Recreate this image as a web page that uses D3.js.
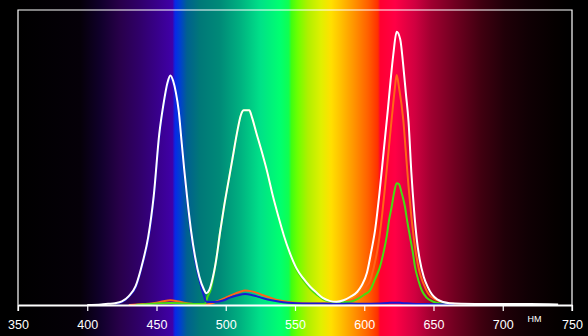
<!DOCTYPE html>
<html>
<head>
<meta charset="utf-8">
<script src="https://cdn.jsdelivr.net/npm/d3@7"></script>
<style>
  html, body { margin: 0; padding: 0; background: #000; }
  svg { display: block; }
</style>
</head>
<body>
<div id="vis-container"></div>
<script>
////////////////////////////////////
/////////////// Data ///////////////
////////////////////////////////////

const tickValues = [350, 400, 450, 500, 550, 600, 650, 700, 750]
const unitLabel = "НМ"

// white field spectrum
const whiteNm = [400, 410, 415, 420, 425, 430, 435, 440, 444, 448, 452, 455, 458, 460, 462, 464, 466, 468, 470, 472, 475, 478, 481, 484, 486, 488, 490, 493, 496, 499, 502, 505, 508, 511, 513, 517, 519, 522, 526, 530, 534, 538, 542, 546, 551, 556, 561, 566, 570, 575, 580, 585, 590, 595, 598, 602, 605, 608, 611, 614, 617, 619, 621, 623.4, 626, 628, 630, 632, 634, 636, 638, 640, 643, 646, 649, 653, 657, 662, 670, 690, 720, 740]
const whiteVal = [0, 0.002, 0.004, 0.006, 0.012, 0.03, 0.065, 0.145, 0.23, 0.37, 0.58, 0.68, 0.755, 0.778, 0.76, 0.72, 0.66, 0.56, 0.46, 0.37, 0.25, 0.16, 0.095, 0.055, 0.04, 0.05, 0.08, 0.15, 0.25, 0.34, 0.42, 0.5, 0.58, 0.645, 0.66, 0.66, 0.635, 0.585, 0.52, 0.45, 0.37, 0.3, 0.235, 0.18, 0.125, 0.09, 0.062, 0.04, 0.024, 0.014, 0.011, 0.016, 0.028, 0.045, 0.065, 0.11, 0.18, 0.26, 0.38, 0.52, 0.66, 0.76, 0.85, 0.926, 0.9, 0.82, 0.72, 0.62, 0.45, 0.32, 0.22, 0.155, 0.095, 0.06, 0.035, 0.018, 0.01, 0.006, 0.004, 0.003, 0.003, 0.002]

// red field spectrum
const redNm = [430, 440, 450, 455, 460, 465, 470, 475, 480, 486, 490, 495, 500, 505, 510, 514, 518, 522, 527, 532, 538, 545, 555, 565, 575, 585, 590, 594, 598, 601, 604, 607, 610, 613, 615, 617.5, 620, 622, 623.4, 625, 628.2, 630, 632, 634, 636.6, 640, 642.6, 646, 652, 658, 665]
const redVal = [0, 0.003, 0.008, 0.013, 0.016, 0.013, 0.008, 0.004, 0.002, 0.002, 0.006, 0.015, 0.025, 0.035, 0.044, 0.049, 0.047, 0.042, 0.033, 0.025, 0.016, 0.01, 0.006, 0.005, 0.006, 0.01, 0.016, 0.023, 0.04, 0.06, 0.08, 0.13, 0.2, 0.31, 0.4, 0.52, 0.64, 0.73, 0.78, 0.74, 0.627, 0.52, 0.4, 0.3, 0.198, 0.11, 0.074, 0.04, 0.017, 0.008, 0.004]

// green field spectrum
const greenNm = [435, 440, 450, 460, 470, 480, 485, 487, 489, 493, 496, 499, 502, 505, 508, 511, 513, 517, 519, 522, 526, 530, 534, 538, 542, 546, 551, 556, 561, 566, 570, 575, 580, 585, 589.7, 595, 600, 604.2, 608, 611.4, 614, 616.2, 618, 619.8, 621.5, 623.4, 625, 627, 629.4, 631, 633, 635, 636.6, 639, 641.5, 645, 649.9, 655, 662]
const greenVal = [0, 0.002, 0.005, 0.007, 0.005, 0.003, 0.004, 0.03, 0.05, 0.15, 0.25, 0.34, 0.42, 0.5, 0.58, 0.645, 0.66, 0.66, 0.635, 0.585, 0.52, 0.45, 0.37, 0.3, 0.235, 0.18, 0.12, 0.084, 0.055, 0.034, 0.02, 0.012, 0.01, 0.01, 0.011, 0.02, 0.035, 0.05, 0.09, 0.13, 0.18, 0.232, 0.29, 0.333, 0.38, 0.413, 0.41, 0.38, 0.333, 0.285, 0.232, 0.18, 0.13, 0.085, 0.05, 0.025, 0.011, 0.005, 0.003]

// blue field spectrum
const blueNm = [420, 425, 430, 435, 440, 444, 448, 452, 455, 458, 460, 462, 464, 466, 468, 470, 472, 475, 478, 481, 484, 486, 490, 494, 498, 503, 508, 514, 518, 522, 527, 533, 539, 545, 551, 560, 570, 580, 590, 600, 610, 617, 622, 627, 635, 645, 665]
const blueVal = [0.004, 0.01, 0.028, 0.06, 0.14, 0.22, 0.36, 0.57, 0.67, 0.745, 0.768, 0.75, 0.71, 0.65, 0.55, 0.45, 0.36, 0.24, 0.15, 0.085, 0.035, 0.011, 0.01, 0.011, 0.015, 0.025, 0.032, 0.037, 0.035, 0.03, 0.023, 0.016, 0.011, 0.008, 0.006, 0.005, 0.005, 0.004, 0.005, 0.004, 0.005, 0.007, 0.008, 0.007, 0.004, 0.003, 0.002]

// background spectrum colours
const spectrumNm = [350, 394.8, 409.2, 423.6, 438, 450.4, 461.5, 463.4, 467, 472, 481.4, 495.8, 510.3, 524.7, 539.2, 545.5, 547.5, 552.2, 559.4, 568.8, 576, 583.2, 593.3, 602.7, 609.9, 611.5, 622.2, 636.6, 648.2, 665.5, 684.3, 701.6, 718.2, 737.7, 750]
const spectrumColor = ["#000000", "#050008", "#10002a", "#28004a", "#30006a", "#38008a", "#4000a8", "#0828e8", "#0040d0", "#006090", "#007878", "#008a78", "#00b080", "#00e088", "#00ff70", "#10ff50", "#40ff10", "#70ff00", "#b0f000", "#e0f000", "#ffe000", "#ffc000", "#ff9000", "#ff6000", "#ff3000", "#ff0030", "#ff0045", "#d00040", "#a00030", "#700020", "#400010", "#200008", "#100004", "#050000", "#000000"]

////////////////////////////////////
///////////// SVG Setup ////////////
////////////////////////////////////

const svgWidth = 588
const svgHeight = 336

const margin = { left: 18, right: 16, top: 10, bottom: 31 }
const width = svgWidth - margin.left - margin.right
const height = svgHeight - margin.top - margin.bottom

const root = d3.select('#vis-container')
    .append('svg')
    .attr('width', svgWidth)
    .attr('height', svgHeight)

root.append('rect')
    .attr('width', svgWidth)
    .attr('height', svgHeight)
    .attr('fill', '#000')

const svg = root.append('g')
    .attr('transform', `translate(${margin.left},${margin.top})`)

////////////////////////////////////
/////////////// Scales /////////////
////////////////////////////////////

const xScale = d3.scaleLinear()
    .domain([350, 750])
    .range([0, width])

const yScale = d3.scaleLinear()
    .domain([0, 1])
    .range([height, 0])

////////////////////////////////////
//////////// Background ////////////
////////////////////////////////////

const grad = root.append('defs').append('linearGradient')
    .attr('id', 'spectrum')
    .attr('gradientUnits', 'userSpaceOnUse')
    .attr('x1', xScale(350)).attr('x2', xScale(750))
    .attr('y1', 0).attr('y2', 0)

grad.selectAll('stop')
    .data(spectrumNm)
    .join('stop')
    .attr('offset', d => (d - 350) / 400)
    .attr('stop-color', (d, i) => spectrumColor[i])

svg.append('rect')
    .attr('x', xScale(350))
    .attr('y', -margin.top)
    .attr('width', xScale(750) - xScale(350))
    .attr('height', svgHeight)
    .attr('fill', 'url(#spectrum)')

////////////////////////////////////
/////////////// Frame //////////////
////////////////////////////////////

svg.append('path')
    .attr('d', `M${xScale(350)},${height + 6}V0H${xScale(750)}V${height + 6}`)
    .attr('fill', 'none')
    .attr('stroke', '#fff')
    .attr('stroke-width', 1.2)

////////////////////////////////////
/////////////// Curves /////////////
////////////////////////////////////

const line = d3.line()
    .x(d => xScale(d[0]))
    .y(d => yScale(d[1]))
    .curve(d3.curveMonotoneX)

const series = [
    { name: 'red', nm: redNm, val: redVal, color: '#ff6418' },
    { name: 'green', nm: greenNm, val: greenVal, color: '#48dc10' },
    { name: 'blue', nm: blueNm, val: blueVal, color: '#1a1ad2' },
    { name: 'white', nm: whiteNm, val: whiteVal, color: '#ffffff' }
]

svg.selectAll('.curve')
    .data(series)
    .join('path')
    .attr('class', 'curve')
    .attr('fill', 'none')
    .attr('stroke', d => d.color)
    .attr('stroke-width', 2)
    .attr('stroke-linejoin', 'round')
    .attr('d', d => line(d.nm.map((n, i) => [n, d.val[i]])))

////////////////////////////////////
////////////// Axis ////////////////
////////////////////////////////////

const xAxis = d3.axisBottom(xScale)
    .tickValues(tickValues)
    .tickSize(6)
    .tickSizeOuter(0)
    .tickFormat(d3.format('d'))

const gx = svg.append('g')
    .attr('transform', `translate(0,${height})`)
    .call(xAxis)

gx.select('.domain').attr('stroke', '#fff').attr('stroke-width', 2)
gx.selectAll('.tick line').attr('stroke', '#fff').attr('stroke-width', 1.2)
gx.selectAll('.tick text')
    .attr('fill', '#fff')
    .attr('y', 24)
    .attr('dy', null)
    .style('font-family', '"Liberation Sans", Arial, sans-serif')
    .style('font-size', '12.5px')

svg.append('text')
    .attr('x', xScale(723))
    .attr('y', height + 17)
    .attr('text-anchor', 'middle')
    .attr('fill', '#fff')
    .style('font-family', '"Liberation Sans", Arial, sans-serif')
    .style('font-size', '9px')
    .text(unitLabel)
</script>
</body>
</html>
